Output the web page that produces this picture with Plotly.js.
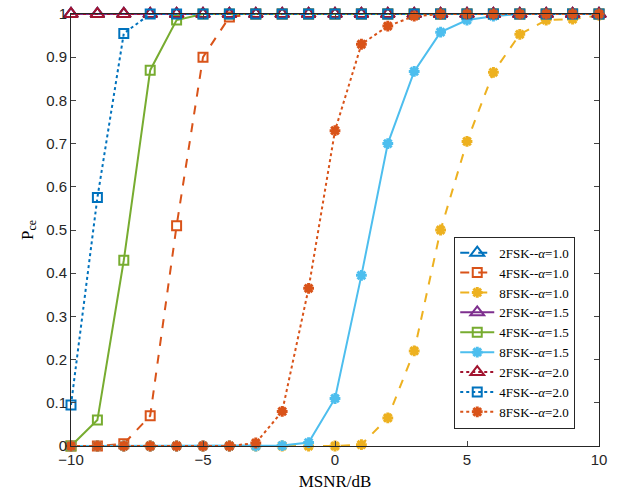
<!DOCTYPE html>
<html><head><meta charset="utf-8">
<script src="https://cdn.plot.ly/plotly-3.0.1.min.js"></script>
<style>html,body{margin:0;padding:0;background:#fff;}#chart{width:621px;height:497px;}</style>
</head><body><div id="chart"></div>
<script>
const snr = [-10,-9,-8,-7,-6,-5,-4,-3,-2,-1,0,1,2,3,4,5,6,7,8,9,10];
const fsk2_a10 = [1,1,1,1,1,1,1,1,1,1,1,1,1,1,1,1,1,1,1,1,1];
const fsk4_a10 = [0,0,0.005,0.07,0.51,0.90,0.993,1,1,1,1,1,1,1,1,1,1,1,1,1,1];
const fsk8_a10 = [0,0,0,0,0,0,0,0,0,0,0,0.003,0.065,0.22,0.50,0.705,0.865,0.953,0.986,0.988,0.997];
const fsk2_a15 = [1,1,1,1,1,1,1,1,1,1,1,1,1,1,1,1,1,1,1,1,1];
const fsk4_a15 = [0,0.06,0.43,0.87,0.986,1,1,1,1,1,1,1,1,1,1,1,1,1,1,1,1];
const fsk8_a15 = [0,0,0,0,0,0,0,0,0.001,0.008,0.11,0.395,0.70,0.867,0.958,0.986,0.995,1,1,1,1];
const fsk2_a20 = [1,1,1,1,1,1,1,1,1,1,1,1,1,1,1,1,1,1,1,1,1];
const fsk4_a20 = [0.095,0.575,0.955,1,1,1,1,1,1,1,1,1,1,1,1,1,1,1,1,1,1];
const fsk8_a20 = [0,0,0,0,0,0,0,0.007,0.08,0.365,0.73,0.93,0.972,0.995,1,1,1,1,1,1,1];
const names = ['2FSK--<i>α</i>=1.0','4FSK--<i>α</i>=1.0','8FSK--<i>α</i>=1.0',
               '2FSK--<i>α</i>=1.5','4FSK--<i>α</i>=1.5','8FSK--<i>α</i>=1.5',
               '2FSK--<i>α</i>=2.0','4FSK--<i>α</i>=2.0','8FSK--<i>α</i>=2.0'];
const series = [fsk2_a10,fsk4_a10,fsk8_a10,fsk2_a15,fsk4_a15,fsk8_a15,fsk2_a20,fsk4_a20,fsk8_a20];
const colors = ['#0072BD','#D95319','#EDB120','#7E2F8E','#77AC30','#4DBEEE','#A2142F','#0072BD','#D95319'];
const dashes = ['dash','dash','dash','solid','solid','solid','dot','dot','dot'];
const symbols = ['triangle-up-open','square-open','asterisk-open'];

const traces = series.map((ys,i)=>{
  const k = i%3;
  const m = k===2
    ? {symbol:'asterisk-open', size:9, color:colors[i], line:{color:colors[i], width:3}}
    : {symbol:symbols[k], size:k===0?12:9, color:colors[i], line:{color:colors[i], width:2}};
  return {x:snr, y:ys, name:names[i], type:'scatter', mode:'lines+markers',
    line:{color:colors[i], width:2, dash:dashes[i]}, marker:m, cliponaxis:false};
});

const layout = {
  width:621, height:497,
  margin:{l:71, r:22, t:14, b:51},
  paper_bgcolor:'#fff', plot_bgcolor:'#fff',
  showlegend:true,
  legend:{x:0.955, xanchor:'right', y:0.04, yanchor:'bottom',
    bgcolor:'#fff', bordercolor:'#262626', borderwidth:1,
    font:{family:'Liberation Serif', size:13, color:'#000'},
    itemwidth:34, tracegroupgap:0},
  xaxis:{range:[-10,10], tickvals:[-10,-5,0,5,10], ticks:'inside', ticklen:5,
    showline:true, linecolor:'#262626', linewidth:1, mirror:'ticks', showgrid:false, zeroline:false,
    tickfont:{family:'Liberation Sans', size:15, color:'#262626'},
    title:{text:'MSNR/dB', font:{family:'Liberation Serif', size:17, color:'#000'}, standoff:8}},
  yaxis:{range:[0,1], tickvals:[0,0.1,0.2,0.3,0.4,0.5,0.6,0.7,0.8,0.9,1],
    ticktext:['0','0.1','0.2','0.3','0.4','0.5','0.6','0.7','0.8','0.9','1'],
    ticks:'inside', ticklen:5,
    showline:true, linecolor:'#262626', linewidth:1, mirror:'ticks', showgrid:false, zeroline:false,
    tickfont:{family:'Liberation Sans', size:15, color:'#262626'},
    title:{text:'P<sub>ce</sub>', font:{family:'Liberation Serif', size:17, color:'#000'}, standoff:8}}
};
Plotly.newPlot('chart', traces, layout, {displayModeBar:false, staticPlot:true});
</script></body></html>
